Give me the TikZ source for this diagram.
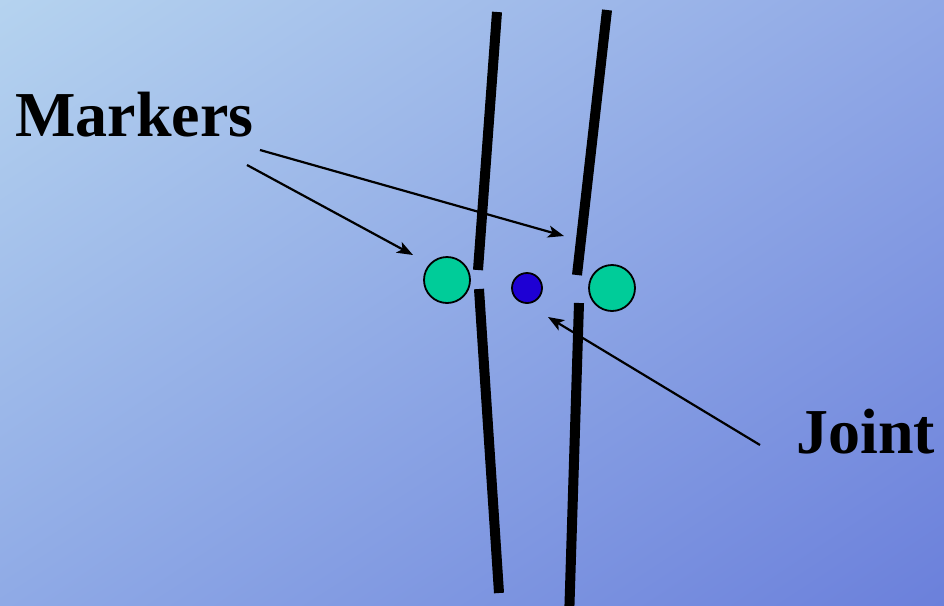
\documentclass[tikz,border=0pt]{standalone}
\usepackage{fontspec}
\setmainfont{Liberation Serif}
\usetikzlibrary{arrows.meta,positioning,shadings}
\definecolor{bgul}{HTML}{B5D3EF}
\definecolor{bgur}{HTML}{90A8E6}
\definecolor{bgll}{HTML}{8FAAE6}
\definecolor{bglr}{HTML}{6B80DB}
\definecolor{mkgreen}{HTML}{00CC99}
\definecolor{mkjoint}{HTML}{1E00D4}

\begin{document}
\begin{tikzpicture}[x=1pt,y=-1pt,
  every node/.style={inner sep=0pt},
  lbl/.style={font=\fontsize{64}{70}\selectfont\bfseries,anchor=base west},
  marker/.style={circle,draw=black,line width=1.8pt,fill=mkgreen,minimum size=46pt},
  joint/.style={circle,draw=black,line width=1.8pt,fill=mkjoint,minimum size=30pt},
  rod/.style={line width=10pt},
  ptr/.style={line width=2.2pt,-{Stealth[length=16pt,width=12pt,inset=4pt]}}]
% background
\shade[upper left=bgul,upper right=bgur,lower left=bgll,lower right=bglr]
  (0,0) rectangle (944,605);
\useasboundingbox (0,0) rectangle (944,605);
\clip (0,0) rectangle (944,605);
% rods
\draw[rod] (497,12) -- (478,270);
\draw[rod] (479,289) -- (499,593);
\draw[rod] (607,10) -- (577,275);
\draw[rod] (579,303) -- (569,620);
% markers and joint
\node[marker] (mleft) at (447,280) {};
\node[joint] (joint) at (527,288) {};
\node[marker] (mright) at (612,288) {};
% labels
\node[lbl] (markers) at (15,136) {Markers};
\node[lbl] (jointlbl) at (796,453) {Joint};
\coordinate (m1) at (247,165);
\coordinate (m2) at (260,150);
\coordinate (j1) at (760,445);
\coordinate (t1) at (413,255);
\coordinate (t2) at (564,236);
\coordinate (t3) at (548,317);
\draw[ptr] (m1) -- (t1);
\draw[ptr] (m2) -- (t2);
\draw[ptr] (j1) -- (t3);
\end{tikzpicture}
\end{document}
